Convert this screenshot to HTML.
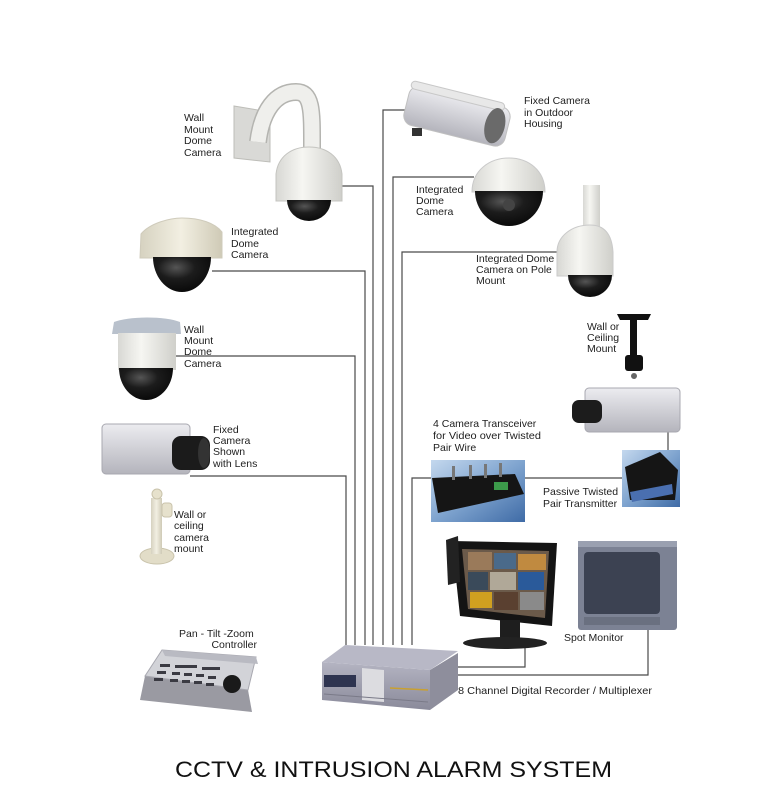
<!DOCTYPE html>
<html><head><meta charset="utf-8">
<style>
html,body{margin:0;padding:0;background:#fff;}
svg{display:block;}
text{font-family:"Liberation Sans",Arial,sans-serif;font-size:10.5px;fill:#1e1e1e;}
</style></head>
<body>
<svg width="783" height="800" viewBox="0 0 783 800" xmlns="http://www.w3.org/2000/svg">
<defs>
<linearGradient id="wh" x1="0" y1="0" x2="1" y2="0">
<stop offset="0" stop-color="#d8d8d4"/><stop offset="0.4" stop-color="#f6f6f2"/><stop offset="1" stop-color="#cfcfca"/>
</linearGradient>
<linearGradient id="cream" x1="0" y1="0" x2="1" y2="0">
<stop offset="0" stop-color="#d6d2c0"/><stop offset="0.5" stop-color="#f2efe2"/><stop offset="1" stop-color="#cfcab6"/>
</linearGradient>
<radialGradient id="blk" cx="0.4" cy="0.3" r="0.8">
<stop offset="0" stop-color="#555"/><stop offset="0.4" stop-color="#1c1c1c"/><stop offset="1" stop-color="#050505"/>
</radialGradient>
<linearGradient id="gbox" x1="0" y1="0" x2="0" y2="1">
<stop offset="0" stop-color="#ececf0"/><stop offset="1" stop-color="#b4b4bc"/>
</linearGradient>
<linearGradient id="blue" x1="0" y1="0" x2="1" y2="1">
<stop offset="0" stop-color="#c4d8ee"/><stop offset="0.5" stop-color="#7fa4cf"/><stop offset="1" stop-color="#3f6ba6"/>
</linearGradient>
<linearGradient id="rec" x1="0" y1="0" x2="0" y2="1">
<stop offset="0" stop-color="#b4b4c2"/><stop offset="1" stop-color="#8a8a9a"/>
</linearGradient>
</defs>

<!-- connectors -->
<g stroke="#4a4a4a" stroke-width="1.2" fill="none">
<polyline points="341,186 373,186 373,645"/>
<polyline points="212,271 365,271 365,645"/>
<polyline points="173,356 355,356 355,645"/>
<polyline points="190,476 346,476 346,645"/>
<polyline points="406,110 383,110 383,645"/>
<polyline points="474,177 393,177 393,645"/>
<polyline points="558,252 402,252 402,645"/>
<polyline points="432,478 412,478 412,645"/>
<polyline points="524,478 622,478"/>
<polyline points="668,430 668,462"/>
<polyline points="456,667 525,667 525,642"/>
<polyline points="456,675 648,675 648,628"/>
</g>

<!-- A: wall mount dome top -->
<polygon points="234,106 270,112 270,162 234,158" fill="#d9d9d6" stroke="#bdbdb8"/>
<path d="M258 142 C262 110,276 92,296 92 C313 92,312 112,312 152" stroke="#b4b4b0" stroke-width="18" fill="none"/>
<path d="M258 142 C262 110,276 92,296 92 C313 92,312 112,312 152" stroke="#efefec" stroke-width="15" fill="none"/>
<path d="M276 174 C278 156,292 147,309 147 C326 147,340 156,342 174 L342 201 L276 201 Z" fill="url(#wh)" stroke="#c4c4c0"/>
<path d="M287 200 A22 21 0 0 0 331 200 Z" fill="url(#blk)"/>

<!-- B: integrated dome left -->
<path d="M140 258 L141 234 C150 223,170 218,182 218 C200 218,215 223,222 232 L222 258 Z" fill="url(#cream)" stroke="#cfcbbb"/>
<path d="M153 257 A29 35 0 0 0 211 257 Z" fill="url(#blk)"/>

<!-- C: wall mount dome 2 -->
<path d="M112 334 L114 322 C130 316,165 316,180 322 L181 334 Z" fill="#b9c1cc"/>
<rect x="118" y="333" width="58" height="37" fill="url(#wh)"/>
<path d="M119 368 A27 32 0 0 0 173 368 Z" fill="url(#blk)"/>

<!-- D: fixed camera with lens -->
<rect x="102" y="424" width="88" height="50" rx="4" fill="url(#gbox)" stroke="#a8a8b0"/>
<rect x="172" y="436" width="38" height="34" rx="9" fill="#1b1b1b"/>
<ellipse cx="204" cy="453" rx="6" ry="15" fill="#333"/>

<!-- E: wall/ceiling mount left -->
<ellipse cx="157" cy="556" rx="17" ry="8" fill="#e2ddc8" stroke="#c9c3ab"/>
<rect x="151" y="498" width="11" height="56" fill="url(#cream)"/>
<circle cx="157" cy="494" r="5" fill="#e6e1cc" stroke="#c9c3ab"/>
<rect x="162" y="503" width="10" height="14" rx="3" fill="#e6e1cc" stroke="#c9c3ab"/>

<!-- F: PTZ keyboard -->
<polygon points="140,700 145,676 248,690 252,712" fill="#9a9aa2"/>
<polygon points="162,650 256,657 248,690 145,676" fill="#d2d3d8" stroke="#a8a8b0"/>
<polygon points="162,650 256,657 258,664 165,656" fill="#b9bac2"/>
<g fill="#3a3a42">
<rect x="160" y="664" width="10" height="3"/><rect x="175" y="665" width="22" height="3"/><rect x="202" y="667" width="18" height="3"/>
<rect x="157" y="671" width="9" height="3"/><rect x="172" y="672" width="8" height="3"/><rect x="184" y="673" width="8" height="3"/><rect x="196" y="674" width="8" height="3"/><rect x="208" y="676" width="8" height="3"/>
<rect x="154" y="678" width="9" height="3"/><rect x="170" y="679" width="8" height="3"/><rect x="182" y="680" width="8" height="3"/><rect x="194" y="681" width="8" height="3"/><rect x="206" y="683" width="8" height="3"/>
</g>
<circle cx="232" cy="684" r="9" fill="#1a1a1a"/>

<!-- G: recorder -->
<polygon points="322,662 430,670 430,710 322,700" fill="url(#rec)"/>
<polygon points="430,670 458,653 458,690 430,710" fill="#8e8e9c"/>
<polygon points="345,645 458,651 430,670 322,662" fill="#b8b8c6"/>
<rect x="324" y="675" width="32" height="12" fill="#2e3450"/>
<polygon points="362,668 384,670 384,702 362,700" fill="#dcdce0"/>
<line x1="390" y1="688" x2="428" y2="690" stroke="#c9a030" stroke-width="1.5"/>
<line x1="324" y1="694" x2="428" y2="702" stroke="#7a7a88" stroke-width="1"/>

<!-- H: outdoor fixed camera -->
<g transform="rotate(14 456 116)">
<rect x="405" y="96" width="104" height="40" rx="10" fill="url(#gbox)" stroke="#c0c0c0"/>
<rect x="405" y="92" width="96" height="8" rx="4" fill="#e8e8e8" stroke="#c8c8c8"/>
<ellipse cx="496" cy="116" rx="10" ry="18" fill="#6a6a6a"/>
</g>
<rect x="412" y="128" width="10" height="8" fill="#333"/>

<!-- I: integrated dome right -->
<path d="M472 192 C472 170,490 158,509 158 C528 158,545 170,545 192 Z" fill="url(#wh)" stroke="#cacaca"/>
<path d="M475 191 A34 35 0 0 0 543 191 Z" fill="url(#blk)"/>
<circle cx="509" cy="205" r="6" fill="#444"/>

<!-- J: pole mount dome -->
<rect x="583" y="185" width="17" height="44" fill="url(#wh)"/>
<path d="M557 252 C557 236,572 225,590 225 C606 225,612 236,613 252 L613 276 L557 276 Z" fill="url(#wh)" stroke="#cacaca"/>
<path d="M568 275 A22 22 0 0 0 612 275 Z" fill="url(#blk)"/>

<!-- K: ceiling mount black -->
<polygon points="617,314 651,314 648,320 620,320" fill="#111"/>
<rect x="630" y="319" width="7" height="38" fill="#111"/>
<rect x="625" y="355" width="18" height="16" rx="3" fill="#111"/>
<circle cx="634" cy="376" r="3" fill="#666"/>

<!-- L: fixed camera right -->
<rect x="585" y="388" width="95" height="44" rx="4" fill="url(#gbox)" stroke="#a8a8b0"/>
<rect x="572" y="400" width="30" height="23" rx="7" fill="#1c1c1c"/>

<!-- M: passive transmitter -->
<rect x="622" y="450" width="58" height="57" fill="url(#blue)"/>
<polygon points="625,467 660,452 678,470 675,500 630,500" fill="#151515"/>
<polygon points="630,492 672,484 673,494 632,502" fill="#4a6fb0"/>

<!-- N: 4-camera transceiver -->
<rect x="431" y="460" width="94" height="62" fill="url(#blue)"/>
<polygon points="432,478 515,474 524,494 438,513" fill="#151515"/>
<rect x="494" y="482" width="14" height="8" fill="#3c9a4a"/>
<g fill="#777"><rect x="452" y="466" width="3" height="14"/><rect x="469" y="465" width="3" height="14"/><rect x="484" y="464" width="3" height="14"/><rect x="499" y="463" width="3" height="14"/></g>

<!-- O: LCD monitor -->
<polygon points="452,541 557,543 552,626 460,616" fill="#141414"/>
<polygon points="462,549 549,551 545,618 468,609" fill="#6b5a4a"/>
<g>
<rect x="468" y="552" width="24" height="18" fill="#9a7a5a"/><rect x="494" y="553" width="22" height="16" fill="#4a6a8a"/><rect x="518" y="554" width="28" height="16" fill="#c08a40"/>
<rect x="468" y="572" width="20" height="18" fill="#3a4a5a"/><rect x="490" y="572" width="26" height="18" fill="#b0a898"/><rect x="518" y="572" width="26" height="18" fill="#2a5a9a"/>
<rect x="470" y="592" width="22" height="16" fill="#d0a020"/><rect x="494" y="592" width="24" height="18" fill="#5a4030"/><rect x="520" y="592" width="24" height="18" fill="#8a8a8a"/>
</g>
<polygon points="446,540 458,536 460,582 448,585" fill="#222"/>
<rect x="500" y="620" width="20" height="20" fill="#1e1e1e"/>
<ellipse cx="505" cy="643" rx="42" ry="6" fill="#222"/>

<!-- P: spot monitor -->
<rect x="578" y="541" width="99" height="89" rx="3" fill="#7c8294"/>
<rect x="578" y="541" width="99" height="6" fill="#9aa0b0"/>
<rect x="584" y="552" width="76" height="62" rx="4" fill="#3c4252"/>
<rect x="584" y="617" width="76" height="8" fill="#6a7080"/>

<!-- labels -->
<text x="184" y="121">Wall</text>
<text x="184" y="133">Mount</text>
<text x="184" y="144">Dome</text>
<text x="184" y="156">Camera</text>

<text x="231" y="235">Integrated</text>
<text x="231" y="247">Dome</text>
<text x="231" y="258">Camera</text>

<text x="184" y="333">Wall</text>
<text x="184" y="344">Mount</text>
<text x="184" y="355">Dome</text>
<text x="184" y="367">Camera</text>

<text x="524" y="104">Fixed Camera</text>
<text x="524" y="116">in Outdoor</text>
<text x="524" y="127">Housing</text>

<text x="416" y="193">Integrated</text>
<text x="416" y="204">Dome</text>
<text x="416" y="215">Camera</text>

<text x="476" y="262">Integrated Dome</text>
<text x="476" y="273">Camera on Pole</text>
<text x="476" y="284">Mount</text>

<text x="587" y="330">Wall or</text>
<text x="587" y="341">Ceiling</text>
<text x="587" y="352">Mount</text>

<text x="213" y="433">Fixed</text>
<text x="213" y="444">Camera</text>
<text x="213" y="455">Shown</text>
<text x="213" y="467">with Lens</text>

<text x="174" y="518">Wall or</text>
<text x="174" y="529">ceiling</text>
<text x="174" y="541">camera</text>
<text x="174" y="552">mount</text>

<text x="179" y="637">Pan - Tilt -Zoom</text>
<text x="257" y="648" text-anchor="end">Controller</text>

<text x="433" y="427">4 Camera Transceiver</text>
<text x="433" y="439" textLength="108" lengthAdjust="spacingAndGlyphs">for Video over Twisted</text>
<text x="433" y="451">Pair Wire</text>

<text x="543" y="495">Passive Twisted</text>
<text x="543" y="507">Pair Transmitter</text>

<text x="564" y="641">Spot Monitor</text>

<text x="458" y="694" textLength="194" lengthAdjust="spacingAndGlyphs">8 Channel Digital Recorder / Multiplexer</text>

<text x="175" y="777" textLength="437" lengthAdjust="spacingAndGlyphs" style="font-size:22px;fill:#111;">CCTV &amp; INTRUSION ALARM SYSTEM</text>
</svg>
</body></html>
